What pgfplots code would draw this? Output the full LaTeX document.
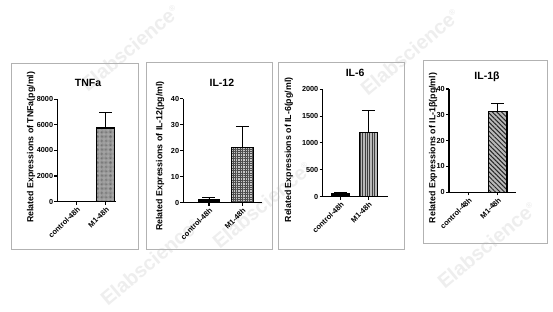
\documentclass[border=0pt]{standalone}
\usepackage{pgfplots}
\pgfplotsset{compat=1.18}
\usetikzlibrary{patterns.meta}
\usepackage{fontspec}
\setmainfont{Liberation Sans}
\newcommand\fs[1]{\fontsize{#1}{#1}\selectfont}

\pgfplotsset{
 prism/.style={
  scale only axis, anchor=south west,
  axis x line=bottom, axis y line=left,
  axis line style={-, line width=1.1pt, black},
  ymin=0, xtick={0,1}, xticklabels={control-48h,M1-48h},
  tick align=outside, major tick length=3pt,
  tick style={line width=1.1pt, black},
  /pgf/number format/assume math mode=true,
  yticklabel style={font=\bfseries\fs{7.3}, inner sep=1pt},
  yticklabel style={/pgf/number format/1000 sep={}},
  xticklabel style={font=\bfseries\fs{7.5}, rotate=45, anchor=north east, inner sep=1pt},
  scaled y ticks=false,
  every axis title shift=0pt,
  title style={font=\bfseries\fs{10.5}, anchor=center},
  ylabel style={font=\bfseries\fs{8.8}, anchor=center},
  clip=false,
 },
 barbase/.style={ybar, bar shift=0pt, draw=black, line width=1.2pt,
   error bars/y dir=plus, error bars/y explicit,
   error bars/error bar style={line width=0.9pt, black},
   error bars/error mark options={rotate=90, line width=0.9pt, black, mark size=6.5pt}},
}

\begin{document}
\begin{tikzpicture}
\path[use as bounding box] (0,0) rectangle (553pt,-312pt);
\fill[white] (0,0) rectangle (553pt,-312pt);

% watermarks
\foreach \x/\y in {130/48, 410/52, 262/205, 487/245, 150/262}{
  \node[rotate=40, text=gray!13, font=\bfseries\fs{20}] at (\x pt,-\y pt) {Elabscience\textsuperscript{\fs{8}®}};
}

% frames
\draw[gray!60, line width=0.8pt] (11pt,-63pt) rectangle (138pt,-249pt);
\draw[gray!60, line width=0.8pt] (146pt,-62pt) rectangle (272pt,-249pt);
\draw[gray!60, line width=0.8pt] (278pt,-62pt) rectangle (404pt,-249pt);
\draw[gray!60, line width=0.8pt] (423pt,-60pt) rectangle (547pt,-243pt);

% TNFa
\begin{axis}[prism, at={(57.3pt,-201.5pt)}, width=58.7pt, height=102.2pt,
  xmin=-0.67, xmax=1.355, ymax=8000, ytick={0,2000,4000,6000,8000},
  title={TNFa}, title style={at={(axis description cs:0.523,1.16)}},
  ylabel={Related Expressions of TNFa(pg/ml)},
  ylabel style={at={(axis description cs:-0.448,0.53)}}]
\addplot[barbase, bar width=17.7pt, fill=black] coordinates {(0,0)};
\addplot[barbase, bar width=17.7pt, fill=gray!65,
  postaction={pattern={Dots[distance=1.3pt, radius=0.35pt]}, pattern color=black!70}]
  coordinates {(1,5750) +- (0,1200)};
\end{axis}

% IL-12
\begin{axis}[prism, at={(183.3pt,-202.7pt)}, width=78.7pt, height=104pt,
  xmin=-0.77, xmax=1.59, ymax=40, ytick={0,10,20,30,40},
  title={IL-12}, title style={at={(axis description cs:0.49,1.154)}},
  ylabel={Related Expressions of IL-12(pg/ml)},
  ylabel style={at={(axis description cs:-0.296,0.45)}},
  error bars/error mark options={rotate=90, line width=0.9pt, black, mark size=8pt}]
\addplot[barbase, bar width=21.6pt, fill=black] coordinates {(0,1.2) +- (0,0.9)};
\addplot[barbase, bar width=21.6pt, fill=gray!45,
  postaction={pattern={Hatch[distance=2.4pt, angle=0, line width=0.4pt]}, pattern color=black!70}]
  coordinates {(1,21.3) +- (0,7.9)};
\end{axis}

% IL-6
\begin{axis}[prism, at={(322.5pt,-196.5pt)}, width=65.2pt, height=107.2pt,
  xmin=-0.65, xmax=1.69, ymax=2000, ytick={0,500,1000,1500,2000},
  title={IL-6}, title style={at={(axis description cs:0.5,1.152)}},
  ylabel={Related Expressions of IL-6(pg/ml)},
  ylabel style={at={(axis description cs:-0.514,0.434)}}]
\addplot[barbase, bar width=18.3pt, fill=black] coordinates {(0,50) +- (0,25)};
\addplot[barbase, bar width=18.3pt, fill=gray!55,
  postaction={pattern={Lines[distance=2.4pt, angle=90, line width=0.5pt]}, pattern color=black!75}]
  coordinates {(1,1190) +- (0,410)};
\end{axis}

% IL-1beta
\begin{axis}[prism, at={(449pt,-192.3pt)}, width=67pt, height=103.3pt,
  xmin=-0.66, xmax=1.62, ymax=40, ytick={0,10,20,30,40},
  title={IL-1β}, title style={at={(axis description cs:0.567,1.116)}},
  ylabel={Related Expressions of IL-1β(pg/ml)},
  ylabel style={at={(axis description cs:-0.239,0.429)}}]
\addplot[barbase, bar width=18.4pt, fill=black] coordinates {(0,0)};
\addplot[barbase, bar width=18.4pt, fill=gray!55,
  postaction={pattern={Lines[distance=3.2pt, angle=-45, line width=1pt]}, pattern color=black!85}]
  coordinates {(1,31.2) +- (0,3.3)};
\end{axis}
\end{tikzpicture}
\end{document}
